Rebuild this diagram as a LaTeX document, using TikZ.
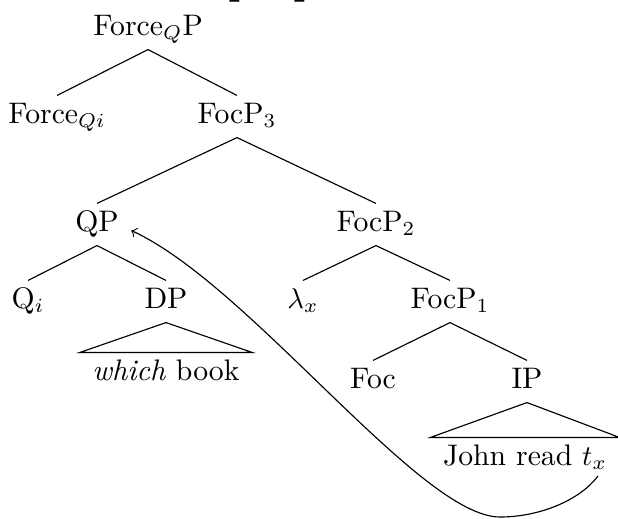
\documentclass[tikz,border=0pt]{standalone}
\usetikzlibrary{calc}
\begin{document}
\begin{tikzpicture}[x=0.35pt,y=-0.35pt,
  lab/.style={inner xsep=4.2pt,inner ysep=1.4pt,text height=8.05pt,text depth=3.5pt,font=\fontsize{10.4}{12}\selectfont},
  edge/.style={line width=0.4pt},
  ttl/.style={font=\fontsize{14}{16}\selectfont\bfseries,inner sep=0pt,anchor=base west}]
\useasboundingbox (0,0) rectangle (618,518);
% clipped title fragments
\node[ttl] (t1) at (228,-6) {p};
\node[ttl] (t2) at (293,-6) {p};
% nodes (anchored by baseline)
\node[lab,anchor=base] (fqp) at (148,35) {Force$_{Q}$P};
\node[lab,anchor=base] (fqi) at (57,123) {Force$_{Qi}$};
\node[lab,anchor=base] (f3) at (237,123) {FocP$_3$};
\node[lab,anchor=base] (qp) at (97,231) {QP};
\node[lab,anchor=base] (f2) at (376,231) {FocP$_2$};
\node[lab,anchor=base] (qi) at (28,308) {Q$_i$};
\node[lab,anchor=base] (dp) at (166,308) {DP};
\node[lab,anchor=base] (lx) at (303,308) {$\lambda_x$};
\node[lab,anchor=base] (f1) at (450,308) {FocP$_1$};
\node[lab,anchor=base] (wb) at (166,380) {\textit{which} book};
\node[lab,anchor=base] (foc) at (373,388) {Foc};
\node[lab,anchor=base] (ip) at (527,388) {IP};
\node[lab,anchor=base] (jr) at (525,465) {John read $t_x$};
% branches
\draw[edge] (fqp.south) -- (fqi.north);
\draw[edge] (fqp.south) -- (f3.north);
\draw[edge] (f3.south) -- (qp.north);
\draw[edge] (f3.south) -- (f2.north);
\draw[edge] (qp.south) -- (qi.north);
\draw[edge] (qp.south) -- (dp.north);
\draw[edge] (f2.south) -- (lx.north);
\draw[edge] (f2.south) -- (f1.north);
\draw[edge] (f1.south) -- (foc.north);
\draw[edge] (f1.south) -- (ip.north);
% triangles
\draw[edge] (dp.south) -- (wb.north west) -- (wb.north east) -- cycle;
\draw[edge] (ip.south) -- (jr.north west) -- (jr.north east) -- cycle;
% movement arrow
\coordinate (tx) at (598,476);
\coordinate (qpe) at ($(qp.east)+(0,6)$);
\draw[edge,->] (tx) .. controls (580,500) and (540,517) .. (500,517)
  .. controls (420,517) and (250,285) .. (qpe);
\end{tikzpicture}
\end{document}
